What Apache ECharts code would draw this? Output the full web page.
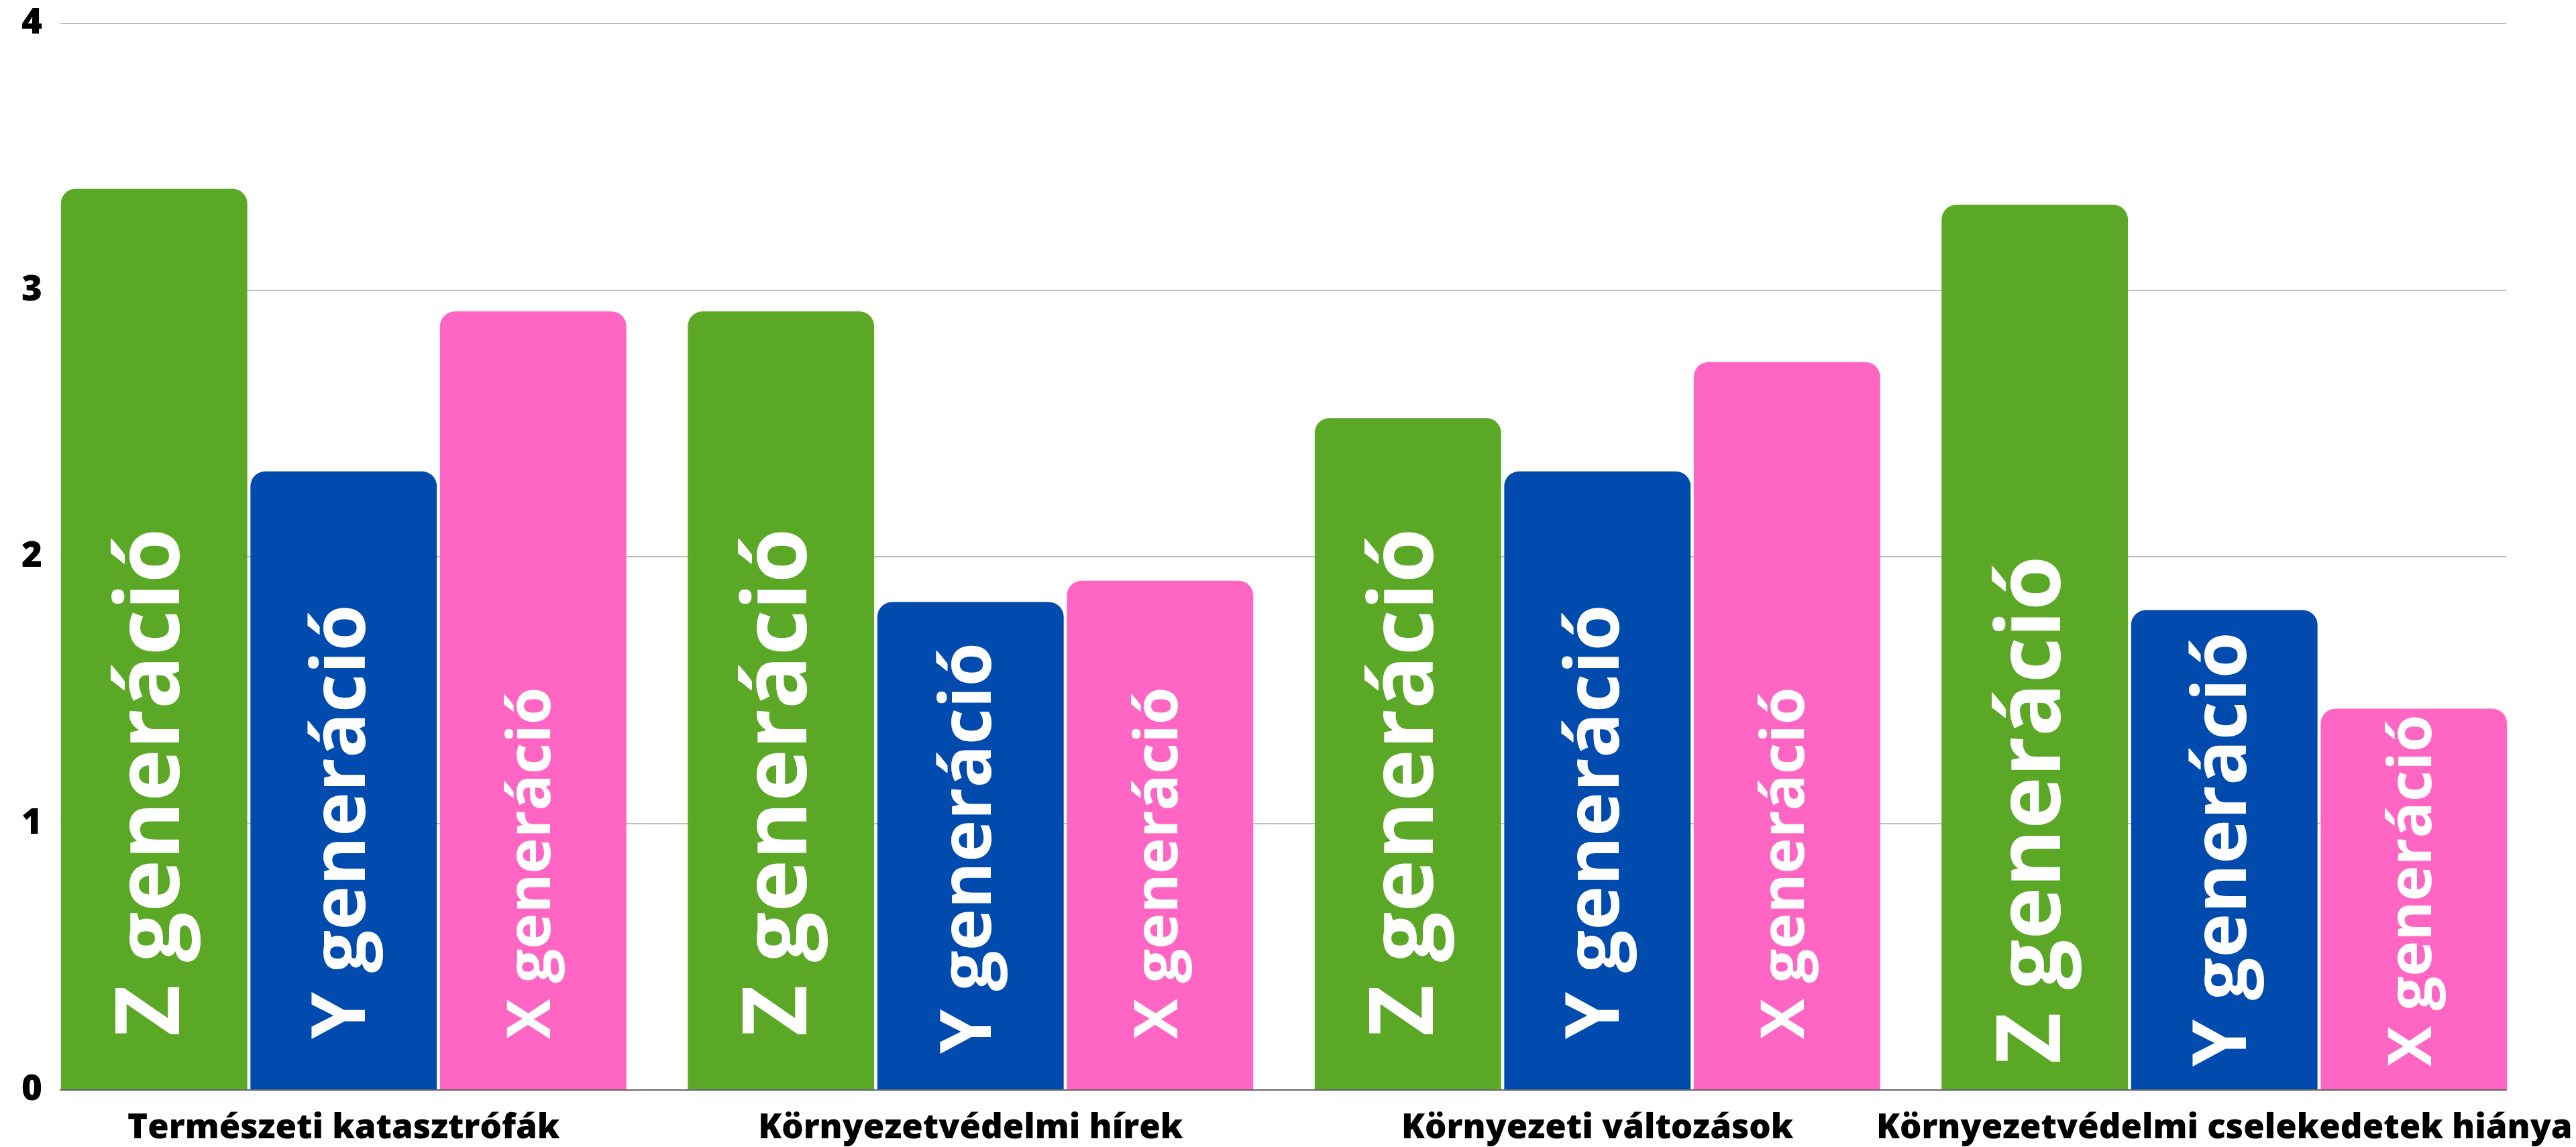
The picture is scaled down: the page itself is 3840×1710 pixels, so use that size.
<!DOCTYPE html>
<html>
<head>
<meta charset="utf-8">
<script src="https://cdn.jsdelivr.net/npm/echarts@6/dist/echarts.min.js"></script>
<style>
html,body{margin:0;padding:0;background:#fff;}
#chart{width:3840px;height:1710px;}
</style>
</head>
<body>
<div id="chart"></div>
<script>
const categories = ['Természeti katasztrófák', 'Környezetvédelmi hírek', 'Környezeti változások', 'Környezetvédelmi cselekedetek hiánya'];
const seriesNames = ['Z generáció', 'Y generáció', 'X generáció'];
const zValues = [3.38, 2.92, 2.52, 3.32];
const yValues = [2.32, 1.83, 2.32, 1.80];
const xValues = [2.92, 1.91, 2.73, 1.43];
const yTicks = [0, 1, 2, 3, 4];

const colors = ['#5AA826', '#004BAD', '#FF66C4'];
const labelSizes = [132, 112, 90];
const labelDist = [80, 76, 76];
// per-bar downward nudge of the in-bar labels (px), [series][category]
const labelShift = [
  [0, 0, 0, 41],
  [0, 22, 0, 41],
  [0, 0, 0, 41]
];
// per-bar label font size overrides, [series][category] (0 = default)
const labelSizeOverride = [
  [0, 0, 0, 0],
  [0, 106, 0, 0],
  [0, 0, 0, 0]
];

const chart = echarts.init(document.getElementById('chart'), null, {renderer: 'canvas'});

function makeSeries(idx, values) {
  return {
    type: 'bar',
    name: seriesNames[idx],
    xAxisIndex: 1,
    yAxisIndex: 1,
    barGap: '1.7%',
    barCategoryGap: '9.8%',
    itemStyle: { color: colors[idx], borderRadius: [22, 22, 0, 0] },
    label: {
      show: true,
      position: 'insideBottom',
      rotate: 90,
      align: 'left',
      verticalAlign: 'middle',
      distance: labelDist[idx],
      formatter: seriesNames[idx],
      color: '#ffffff',
      fontFamily: 'Open Sans',
      fontWeight: 'bold',
      fontSize: labelSizes[idx]
    },
    data: values.map((v, i) => {
      const shift = labelShift[idx][i];
      const size = labelSizeOverride[idx][i];
      if (!shift && !size) return v;
      const lbl = { distance: labelDist[idx] - shift };
      if (size) lbl.fontSize = size;
      return { value: v, label: lbl };
    })
  };
}

const option = {
  backgroundColor: '#ffffff',
  animation: false,
  grid: [
    { left: 90, width: 3646, top: 35, height: 1590 },
    { left: 45, width: 3738, top: 35, height: 1590 }
  ],
  xAxis: [
    {
      gridIndex: 0, type: 'value', min: 0, max: 1,
      axisLine: { show: true, lineStyle: { color: '#666666', width: 2 } },
      axisTick: { show: false }, axisLabel: { show: false }, splitLine: { show: false },
      z: 5
    },
    {
      gridIndex: 1, type: 'category', data: categories,
      axisLine: { show: false }, axisTick: { show: false },
      axisLabel: {
        margin: 32, color: '#000000', fontFamily: 'Open Sans', fontWeight: 800, fontSize: 51, interval: 0
      }
    }
  ],
  yAxis: [
    {
      gridIndex: 0, type: 'value', min: yTicks[0], max: yTicks[yTicks.length - 1], interval: 1,
      axisLine: { show: false }, axisTick: { show: false },
      axisLabel: { margin: 27, color: '#000000', fontFamily: 'Open Sans', fontWeight: 800, fontSize: 53 },
      splitLine: { show: true, lineStyle: { color: '#C0C0C0', width: 2 } }
    },
    {
      gridIndex: 1, type: 'value', min: yTicks[0], max: yTicks[yTicks.length - 1], interval: 1, show: false,
      splitLine: { show: false }
    }
  ],
  series: [
    makeSeries(0, zValues),
    makeSeries(1, yValues),
    makeSeries(2, xValues)
  ]
};
chart.setOption(option);
</script>
</body>
</html>
